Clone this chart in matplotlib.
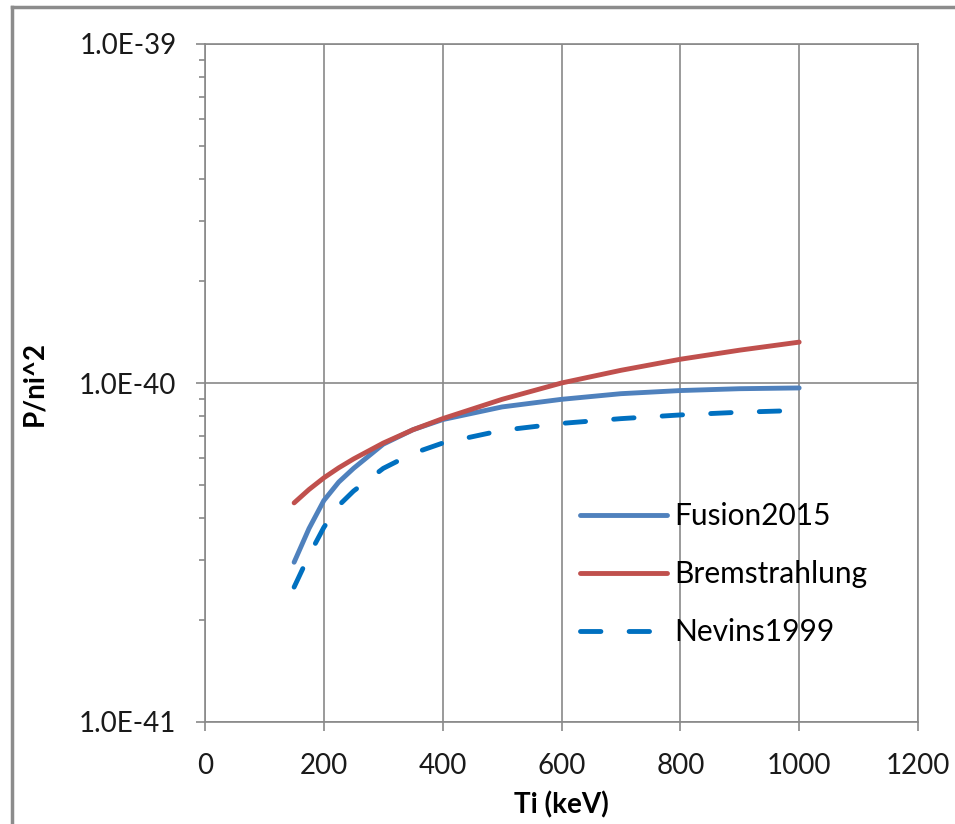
import numpy as np
import matplotlib.pyplot as plt
from matplotlib.lines import Line2D
from matplotlib.ticker import FixedLocator, LogLocator, NullFormatter

# данные
ti_kev = [150, 175, 200, 225, 250, 300, 350, 400, 500, 600, 700, 800, 900, 1000]
fusion2015 = [2.96e-41, 3.72e-41, 4.5e-41, 5.1e-41, 5.6e-41, 6.6e-41, 7.28e-41, 7.8e-41,
              8.5e-41, 8.95e-41, 9.3e-41, 9.5e-41, 9.62e-41, 9.67e-41]
bremstrahlung = [4.43e-41, 4.85e-41, 5.25e-41, 5.62e-41, 5.97e-41, 6.65e-41, 7.28e-41, 7.85e-41,
                 8.95e-41, 1.0e-40, 1.09e-40, 1.175e-40, 1.25e-40, 1.32e-40]
nevins1999 = [2.5e-41, 3.1e-41, 3.75e-41, 4.35e-41, 4.8e-41, 5.6e-41, 6.2e-41, 6.65e-41,
              7.25e-41, 7.6e-41, 7.85e-41, 8.05e-41, 8.2e-41, 8.3e-41]

x_ticks = [0, 200, 400, 600, 800, 1000, 1200]
y_ticks = [1e-41, 1e-40, 1e-39]
y_tick_labels = ["1.0E-41", "1.0E-40", "1.0E-39"]

plt.rcParams['font.family'] = ['Lato', 'DejaVu Sans']

fig = plt.figure(figsize=(9.55, 8.24), dpi=100)
ax = fig.add_axes([205 / 955, 1 - 722 / 824, 713 / 955, 678 / 824])

grid_col = '#898989'
ax.plot(ti_kev, fusion2015, color='#4F81BD', lw=3.5, solid_capstyle='round', label='Fusion2015', zorder=3)
ax.plot(ti_kev, bremstrahlung, color='#C0504D', lw=3.5, solid_capstyle='round', label='Bremstrahlung', zorder=3)
ax.plot(ti_kev, nevins1999, color='#0070C0', lw=3.5, dashes=(4.2, 5.8), dash_capstyle='round',
        label='Nevins1999', zorder=3)

ax.set_yscale('log')
ax.set_xlim(0, 1200)
ax.set_ylim(1e-41, 1e-39)
ax.xaxis.set_major_locator(FixedLocator(x_ticks))
ax.set_yticks(y_ticks)
ax.set_yticklabels(y_tick_labels)
ax.yaxis.set_minor_locator(LogLocator(base=10, subs=np.arange(2, 10)))
ax.yaxis.set_minor_formatter(NullFormatter())

ax.grid(True, which='major', color=grid_col, lw=1.2)
ax.set_axisbelow(True)
for s in ax.spines.values():
    s.set_color(grid_col)
    s.set_linewidth(1.2)

ax.tick_params(axis='both', which='major', length=6.5, width=1.2, color=grid_col,
               labelsize=20, labelcolor='#1a1a1a')
ax.tick_params(axis='y', which='minor', length=4.3, width=1.2, color=grid_col)
ax.tick_params(axis='y', which='major', pad=14)
ax.tick_params(axis='x', which='major', pad=16)

ax.set_xlabel('Ti (keV)', fontsize=20, fontweight='bold', labelpad=9)
ax.set_ylabel('P/ni^2', fontsize=20, fontweight='bold', labelpad=23)

ax.legend(loc='upper left', bbox_to_anchor=(0.526, 0.324), frameon=False, fontsize=21.5,
          handlelength=2.9, handletextpad=0.27, labelspacing=1.0, borderpad=0, borderaxespad=0)

# рамка вокруг области диаграммы
fig.add_artist(Line2D([12 / 955, 12 / 955], [0, 1 - 7 / 824], color='#8c8c8c', lw=2.5))
fig.add_artist(Line2D([12 / 955, 1], [1 - 7 / 824, 1 - 7 / 824], color='#8c8c8c', lw=2.5))

fig.savefig('out.png', dpi=100)
